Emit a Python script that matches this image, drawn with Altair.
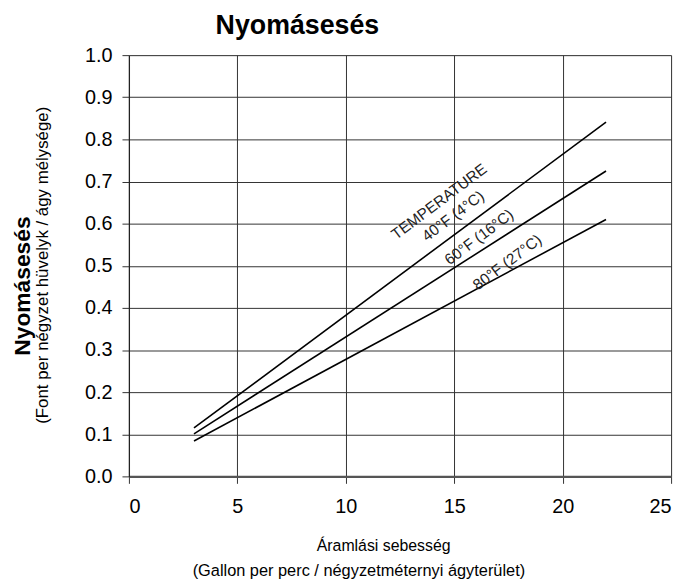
import altair as alt
import pandas as pd

series = ["40°F (4°C)", "60°F (16°C)", "80°F (27°C)"]
flow_start = [3, 3, 3]
flow_end = [22, 22, 22]
drop_start = [0.115, 0.101, 0.084]
drop_end = [0.841, 0.725, 0.610]

x_ticks = [0, 5, 10, 15, 20, 25]
y_ticks = [0.0, 0.1, 0.2, 0.3, 0.4, 0.5, 0.6, 0.7, 0.8, 0.9, 1.0]

label_text = ["TEMPERATURE", "40°F (4°C)", "60°F (16°C)", "80°F (27°C)"]
label_x = [14.3, 14.95, 16.15, 17.45]
label_y = [0.652, 0.618, 0.568, 0.508]

rows = []
for s, x0, x1, y0, y1 in zip(series, flow_start, flow_end, drop_start, drop_end):
    rows.append({"series": s, "flow": x0, "drop": y0})
    rows.append({"series": s, "flow": x1, "drop": y1})
df = pd.DataFrame(rows)
labels = pd.DataFrame({"text": label_text, "flow": label_x, "drop": label_y})

FONT = "Liberation Sans"
W, H = 547, 425

xs = alt.Scale(domain=[0, 25], nice=False)
ys = alt.Scale(domain=[0, 1], nice=False)

lines = alt.Chart(df).mark_line(color="black", strokeWidth=1.6).encode(
    x=alt.X("flow:Q", scale=xs, axis=alt.Axis(
        values=x_ticks, title=None, format="d", grid=True, gridColor="#333",
        gridWidth=1, labelFontSize=20, labelFont=FONT, labelColor="black",
        tickSize=7, tickColor="#333", labelPadding=13,
        domainColor="#555", domainWidth=2.5)),
    y=alt.Y("drop:Q", scale=ys, axis=alt.Axis(
        values=y_ticks, title=None, format=".1f", grid=True, gridColor="#333",
        gridWidth=1, labelFontSize=20, labelFont=FONT, labelColor="black",
        tickSize=7, tickColor="#333", labelPadding=10,
        domainColor="#222", domainWidth=1.2)),
    detail="series:N",
)

temp_labels = alt.Chart(labels).mark_text(
    angle=323, align="center", baseline="middle", fontSize=15.5, font=FONT, color="#222"
).encode(x=alt.X("flow:Q", scale=xs), y=alt.Y("drop:Q", scale=ys), text="text:N")

def txt(t, x, y, size, bold=False, angle=0):
    return alt.Chart(pd.DataFrame({"t": [t]})).mark_text(
        align="center", baseline="alphabetic" if angle == 0 else "middle",
        fontSize=size, font=FONT, fontWeight="bold" if bold else "normal",
        color="black", angle=angle,
    ).encode(text="t:N", x=alt.value(x), y=alt.value(y))

title = txt("Nyomásesés", 170, -21, 27, bold=True)
xt1 = txt("Áramlási sebesség", 257, 500, 16)
xt2 = txt("(Gallon per perc / négyzetméternyi ágyterület)", 232, 525, 16.5)
yt1 = txt("Nyomásesés", -107, 233, 23, bold=True, angle=270)
yt2 = txt("(Font per négyzet hüvelyk / ágy mélysége)", -87, 212, 17, angle=270)

chart = alt.layer(lines, temp_labels, title, xt1, xt2, yt1, yt2).properties(
    width=W, height=H,
    autosize=alt.AutoSizeParams(type="none"),
    padding={"left": 122, "top": 45, "right": 10, "bottom": 105},
).configure_view(stroke="#999", strokeWidth=2).configure(background="white")

chart.save("out.html", embed_options={"renderer": "svg", "actions": False})
